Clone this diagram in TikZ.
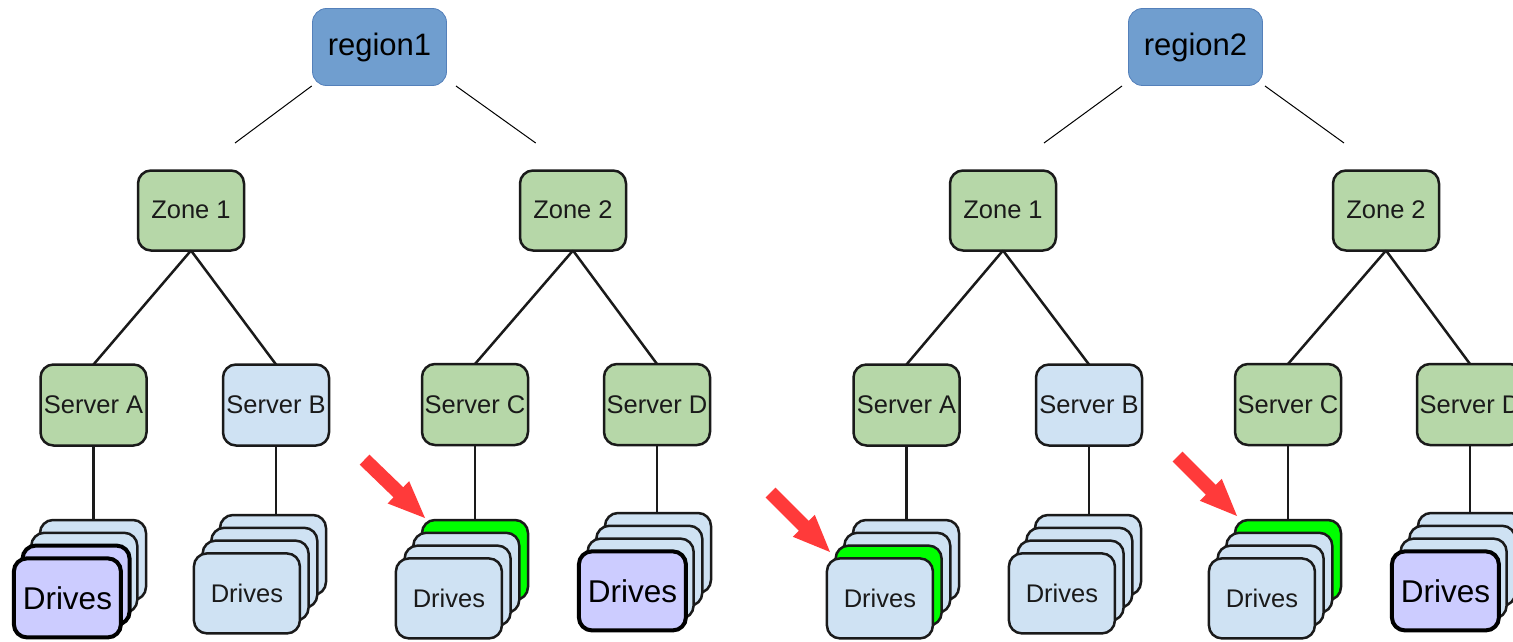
\documentclass[tikz,border=0pt]{standalone}
\usepackage{fontspec}
\setmainfont{Liberation Sans}
\definecolor{regionblue}{RGB}{112,158,207}
\definecolor{regionedge}{RGB}{84,128,186}
\definecolor{zonegreen}{RGB}{182,215,168}
\definecolor{lightblue}{RGB}{207,226,243}
\definecolor{purplec}{RGB}{204,204,255}
\definecolor{brightgreen}{RGB}{0,255,0}
\definecolor{arrowred}{RGB}{255,58,58}
\definecolor{linec}{RGB}{26,26,26}

% one stack of four drive cards: name, top-left of the rearmost card, card styles back to front
\newcommand{\drivestack}[7]{%
  \node[#4] (#1-0) at (#2,#3) {};
  \node[#5] (#1-1) at (#2-8.7,#3+12.8) {};
  \node[#6] (#1-2) at (#2-17.4,#3+25.6) {};
  \node[#7] (#1-3) at (#2-26.1,#3+38.4) {\raisebox{-3pt}{Drives}};
}

\tikzset{
  redarrow/.pic={
    \fill[arrowred] (0,0) -- (-37,15.5) -- (-37,7) -- (-84,7) -- (-84,-7)
      -- (-37,-7) -- (-37,-15.5) -- cycle;
  }
}

\begin{document}
\begin{tikzpicture}[x=1pt,y=-1pt,
  box/.style={draw=linec, line width=2.5pt, rounded corners=13pt,
    minimum width=106pt, minimum height=80pt, inner sep=0pt, outer sep=0pt,
    text=linec, font=\fontsize{25.5}{30}\selectfont},
  zonebox/.style={box, fill=zonegreen},
  srvgreen/.style={box, fill=zonegreen, minimum height=81pt},
  srvblue/.style={box, fill=lightblue, minimum height=81pt},
  regionbox/.style={draw=regionedge, line width=0.8pt, fill=regionblue,
    rounded corners=14pt, minimum width=134pt, minimum height=77pt,
    inner sep=0pt, text=black, font=\fontsize{31}{36}\selectfont},
  card/.style={box, fill=lightblue, anchor=north west},
  cardgreen/.style={card, fill=brightgreen},
  cardpurple/.style={card, fill=purplec, draw=black, line width=4pt,
    minimum width=107pt, minimum height=79pt, text=black,
    font=\fontsize{31.5}{36}\selectfont},
  link/.style={draw=linec, line width=2.5pt},
  thinlink/.style={draw=black, line width=1pt},
]
\useasboundingbox (0,0) rectangle (1513,642);
\clip (0,0) rectangle (1513,642);

% ---------- region 1 ----------
\node[regionbox] (reg1) at (379.5,47) {region1};
\node[zonebox] (r1z1) at (191,210.5) {\raisebox{2.5pt}{Zone 1}};
\node[zonebox] (r1z2) at (573,210.5) {\raisebox{2.5pt}{Zone 2}};
\coordinate (r1ls) at (311.7,86);
\coordinate (r1le) at (235,143);
\coordinate (r1rs) at (456,86);
\coordinate (r1re) at (535.7,143);
\draw[thinlink] (r1ls) -- (r1le);
\draw[thinlink] (r1rs) -- (r1re);

\node[srvgreen] (r1sA) at (93.5,405) {Server A};
\node[srvblue]  (r1sB) at (276,405) {Server B};
\node[srvgreen] (r1sC) at (475,404.5) {Server C};
\node[srvgreen] (r1sD) at (657,404.5) {Server D};
\draw[link] (r1z1.south) -- (r1sA.north);
\draw[link] (r1z1.south) -- (r1sB.north);
\draw[link] (r1z2.south) -- (r1sC.north);
\draw[link] (r1z2.south) -- (r1sD.north);

\drivestack{r1dA}{40}{520}{card}{card}{cardpurple}{cardpurple}
\drivestack{r1dB}{220}{515}{card}{card}{card}{card}
\drivestack{r1dC}{422}{520}{cardgreen}{card}{card}{card}
\drivestack{r1dD}{605}{513}{card}{card}{card}{cardpurple}
\draw[link] (r1sA.south) -- (r1sA.south |- r1dA-0.north);
\draw[link] (r1sB.south) -- (r1sB.south |- r1dB-0.north);
\draw[link] (r1sC.south) -- (r1sC.south |- r1dC-0.north);
\draw[link] (r1sD.south) -- (r1sD.south |- r1dD-0.north);

\pic[rotate=-44] (mark1) at (425,518) {redarrow};

% ---------- region 2 ----------
\node[regionbox] (reg2) at (1195.5,47) {region2};
\node[zonebox] (r2z1) at (1003,210.5) {\raisebox{2.5pt}{Zone 1}};
\node[zonebox] (r2z2) at (1386,210.5) {\raisebox{2.5pt}{Zone 2}};
\coordinate (r2ls) at (1122,86);
\coordinate (r2le) at (1044,143);
\coordinate (r2rs) at (1265,86);
\coordinate (r2re) at (1344,143);
\draw[thinlink] (r2ls) -- (r2le);
\draw[thinlink] (r2rs) -- (r2re);

\node[srvgreen] (r2sA) at (906.5,405) {Server A};
\node[srvblue]  (r2sB) at (1089,405) {Server B};
\node[srvgreen] (r2sC) at (1288,404.5) {Server C};
\node[srvgreen] (r2sD) at (1470,404.5) {Server D};
\draw[link] (r2z1.south) -- (r2sA.north);
\draw[link] (r2z1.south) -- (r2sB.north);
\draw[link] (r2z2.south) -- (r2sC.north);
\draw[link] (r2z2.south) -- (r2sD.north);

\drivestack{r2dA}{853}{520}{card}{card}{cardgreen}{card}
\drivestack{r2dB}{1035}{515}{card}{card}{card}{card}
\drivestack{r2dC}{1235}{520}{cardgreen}{card}{card}{card}
\drivestack{r2dD}{1418}{513}{card}{card}{card}{cardpurple}
\draw[link] (r2sA.south) -- (r2sA.south |- r2dA-0.north);
\draw[link] (r2sB.south) -- (r2sB.south |- r2dB-0.north);
\draw[link] (r2sC.south) -- (r2sC.south |- r2dC-0.north);
\draw[link] (r2sD.south) -- (r2sD.south |- r2dD-0.north);

\pic[rotate=-45] (mark2) at (830,552) {redarrow};
\pic[rotate=-45] (mark3) at (1237,516) {redarrow};
\end{tikzpicture}
\end{document}
